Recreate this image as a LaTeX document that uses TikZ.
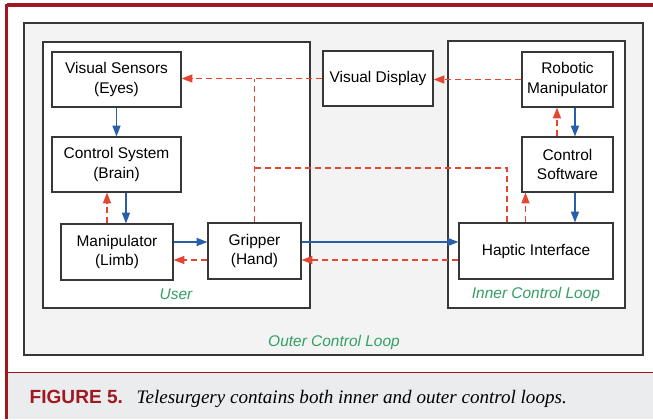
\documentclass[tikz,border=0pt]{standalone}
\usepackage{fontspec}
\setmainfont{Liberation Sans}
\newfontfamily\capserif{Liberation Serif}
\usetikzlibrary{arrows.meta}

\definecolor{framered}{RGB}{160,25,32}
\definecolor{capgray}{RGB}{235,236,238}
\definecolor{loopfill}{RGB}{243,243,243}
\definecolor{boxgray}{RGB}{55,55,55}
\definecolor{flowblue}{RGB}{40,95,170}
\definecolor{flowred}{RGB}{228,70,52}
\definecolor{loopgreen}{RGB}{50,160,100}

\tikzset{
  block/.style={draw=boxgray, fill=white, line width=0.9pt, align=center, inner sep=0pt,
    font=\fontsize{11.6pt}{14.3pt}\selectfont},
  loopbox/.style={draw=boxgray, line width=0.9pt},
  bluearrow/.style={draw=flowblue, line width=0.9pt, -{Triangle[length=8pt,width=6pt]}},
  reddash/.style={draw=flowred, line width=0.9pt, dash pattern=on 4.5pt off 3pt},
  redarrow/.style={reddash, -{Triangle[length=8pt,width=6pt]}},
  looplabel/.style={text=loopgreen, font=\fontsize{11.6pt}{14pt}\selectfont\itshape}
}

\begin{document}
\begin{tikzpicture}[x=0.75pt, y=-0.75pt]
	\useasboundingbox (0,0) rectangle (653,419);
	
	% frame and caption
	\fill [capgray] (8,373) rectangle (653,419);
	\draw [framered, line width=1.2pt] (8,372.5) -- (653,372.5);
	\draw [framered, line width=2.6pt] (6.5,5) -- (653,5);
	\draw [framered, line width=2.6pt] (6.5,4) -- (6.5,419);
	\node [anchor=base west, text=framered, font=\fontsize{14.3pt}{16pt}\selectfont\bfseries] (fig) at (25,403) {FIGURE 5.};
	\node [anchor=base west, font=\fontsize{14.3pt}{16pt}\selectfont\capserif\itshape] (cap) at (132,403) {Telesurgery contains both inner and outer control loops.};
	
	% loops
	\draw [loopbox, fill=loopfill] (24,23) rectangle (643,355);
	\draw [loopbox, fill=white] (43,42) rectangle (310,308);
	\draw [loopbox, fill=white] (448,41) rectangle (625,308);
	\node [looplabel] (outerlbl) at (334,342) {Outer Control Loop};
	\node [looplabel] (userlbl) at (176,294) {User};
	\node [looplabel] (innerlbl) at (536,294) {Inner Control Loop};
	
	% user side
	\node [block, minimum width=96.75pt, minimum height=41.25pt] (vs) at (116.5,79.5) {Visual Sensors\\(Eyes)};
	\node [block, minimum width=96.75pt, minimum height=41.25pt] (cs) at (116.5,164.5) {Control System\\(Brain)};
	\node [block, minimum width=84pt, minimum height=42pt] (man) at (117,252) {Manipulator\\(Limb)};
	\node [block, minimum width=69.75pt, minimum height=42pt] (grip) at (254.5,251) {Gripper\\(Hand)};
	
	% display
	\node [block, minimum width=82.5pt, minimum height=41.25pt] (vd) at (378,78.5) {Visual Display};
	
	% inner loop
	\node [block, minimum width=68.25pt, minimum height=41.25pt] (rm) at (567.5,79.5) {Robotic\\Manipulator};
	\node [block, minimum width=68.25pt, minimum height=41.25pt] (sw) at (567.5,164.5) {Control\\Software};
	\node [block, minimum width=115.5pt, minimum height=42pt] (hi) at (536,251) {Haptic Interface};
	
	% commands
	\draw [bluearrow] (vs) -- (cs);
	\draw [bluearrow] ([xshift=7.1pt]cs.south) -- ([xshift=7.1pt]cs.south |- man.north);
	\draw [bluearrow] ([yshift=7.5pt]man.east) -- ([yshift=7.5pt]man.east -| grip.west);
	\draw [bluearrow] ([yshift=6.75pt]grip.east) -- ([yshift=6.75pt]grip.east -| hi.west);
	\draw [bluearrow] ([xshift=5.6pt]rm.south) -- ([xshift=5.6pt]rm.south |- sw.north);
	\draw [bluearrow] ([xshift=5.6pt]sw.south) -- ([xshift=5.6pt]sw.south |- hi.north);
	
	% feedback
	\draw [redarrow] ([xshift=-7.5pt]man.north) -- ([xshift=-7.5pt]man.north |- cs.south);
	\draw [redarrow] ([yshift=-6.75pt]grip.west) -- ([yshift=-6.75pt]grip.west -| man.east);
	\draw [redarrow] ([yshift=-6.75pt]hi.west) -- ([yshift=-6.75pt]hi.west -| grip.east);
	\draw [redarrow] ([xshift=-7.9pt]sw.north) -- ([xshift=-7.9pt]sw.north |- rm.south);
	\draw [redarrow] ([xshift=-7.9pt]hi.north) -- ([xshift=-7.9pt]hi.north |- sw.south);
	\draw [redarrow] (rm.west) -- (rm.west -| vd.east);
	\draw [redarrow] (vd.west) -- (vd.west -| vs.east);
	\draw [reddash] (grip.north) -- (grip.north |- vd.west);
	\coordinate (hapticfb) at (254.5,168);
	\draw [reddash] ([xshift=-21.75pt]hi.north) |- (hapticfb);
\end{tikzpicture}
\end{document}
